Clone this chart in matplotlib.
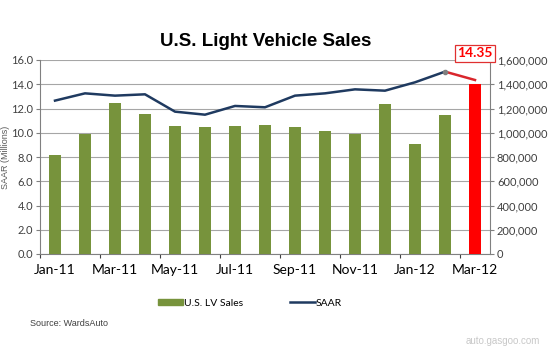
import matplotlib.pyplot as plt
from matplotlib.lines import Line2D
from matplotlib.patches import Patch
from matplotlib.ticker import FuncFormatter, FixedLocator
import numpy as np

months = ['Jan-11', 'Feb-11', 'Mar-11', 'Apr-11', 'May-11', 'Jun-11', 'Jul-11', 'Aug-11',
          'Sep-11', 'Oct-11', 'Nov-11', 'Dec-11', 'Jan-12', 'Feb-12', 'Mar-12']
lv_sales = [817000, 987000, 1245000, 1155000, 1056000, 1047000, 1056000, 1064000,
            1050000, 1017000, 992000, 1240000, 907000, 1146000, 1405000]
saar = [12.65, 13.25, 13.06, 13.17, 11.74, 11.49, 12.21, 12.10,
        13.06, 13.25, 13.58, 13.47, 14.16, 15.04, 14.35]
last_label = '14.35'

green = '#77933C'
navy = '#1F3A60'
red = '#FF0000'
tick_col = '#404040'

plt.rcParams['font.family'] = ['Liberation Sans', 'DejaVu Sans']

fig = plt.figure(figsize=(5.5, 3.49), dpi=100)
ax2 = fig.add_axes([40 / 550, 1 - 254 / 349, 450 / 550, 194 / 349])
ax = ax2.twinx()
ax.set_zorder(2)
ax.patch.set_visible(False)
ax.yaxis.tick_left()
ax.yaxis.set_label_position('left')
ax2.yaxis.tick_right()
ax2.yaxis.set_label_position('right')

x = np.arange(len(months))

# bars (right axis)
colors = [green] * (len(months) - 1) + [red]
ax2.bar(x, lv_sales, width=0.4, color=colors, zorder=3)
ax2.set_ylim(0, 1600000)
ax2.set_yticks(np.arange(0, 1600001, 200000))
ax2.yaxis.set_major_formatter(FuncFormatter(lambda v, p: '{:,.0f}'.format(v)))
ax2.grid(axis='y', color='#A6A6A6', lw=0.8, zorder=0)
ax2.set_axisbelow(True)

# line (left axis)
ax.plot(x[:-1], saar[:-1], color=navy, lw=1.8, zorder=4)
ax.plot(x[-2:], saar[-2:], color='#D9262C', lw=1.8, zorder=4)
ax.plot(x[-2], saar[-2], 'o', color='#7F7F7F', ms=3, zorder=5)
ax.set_ylim(0, 16)
ax.set_yticks(np.arange(0, 16.1, 2))
ax.yaxis.set_major_formatter(FuncFormatter(lambda v, p: '{:.1f}'.format(v)))
ax.set_ylabel('SAAR (Millions)', fontsize=6.5, color='#595959')
ax.yaxis.set_label_coords(-0.066, 0.5)

ax2.set_xlim(-0.5, len(months) - 0.5)
ax2.xaxis.set_major_locator(FixedLocator(np.arange(-0.5, len(months), 2)))
ax2.xaxis.set_minor_locator(FixedLocator(x[::2]))
ax2.set_xticklabels([])
ax2.set_xticklabels(months[::2], minor=True)
ax2.tick_params(axis='x', which='major', length=3, color='#808080')
ax2.tick_params(axis='x', which='minor', length=0, pad=7)

for a in (ax, ax2):
    for s in a.spines.values():
        s.set_visible(False)
    a.tick_params(labelsize=8, labelcolor=tick_col, colors=tick_col)
    for lab in a.get_yticklabels() + a.get_xticklabels(minor=True):
        lab.set_family(['Lato', 'DejaVu Sans'])
ax.tick_params(axis='y', length=3, color='#808080', pad=2)
ax2.tick_params(axis='y', length=3, color='#808080', pad=2)
ax2.spines['bottom'].set_visible(True)
ax2.spines['bottom'].set_color('#808080')
ax.spines['left'].set_visible(True)
ax.spines['left'].set_color('#808080')
ax2.spines['right'].set_visible(True)
ax2.spines['right'].set_color('#808080')

ax.text(x[-1], 16.55, last_label, color=red, fontsize=10, fontweight='bold',
        ha='center', va='center', family=['Lato', 'DejaVu Sans'],
        bbox=dict(boxstyle='square,pad=0.2', fc='white', ec='#E03030', lw=0.9),
        zorder=6, clip_on=False)

fig.text(266 / 550, 1 - 42 / 349, 'U.S. Light Vehicle Sales', fontsize=13.5,
         fontweight='bold', ha='center', va='center')

handles = [Patch(color=green), Line2D([], [], color=navy, lw=1.8)]
leg = fig.legend(handles, ['U.S. LV Sales', 'SAAR'], loc='center',
                 bbox_to_anchor=(250 / 550, 1 - 303 / 349), ncol=2, frameon=False,
                 handlelength=2.4, handleheight=0.6, handletextpad=0.1,
                 columnspacing=4.5, prop={'family': ['Lato', 'DejaVu Sans'], 'size': 7.5})

fig.text(30 / 550, 1 - 323 / 349, 'Source: WardsAuto', fontsize=6.5, color='#404040',
         ha='left', va='center')
fig.text(540 / 550, 1 - 341 / 349, 'auto.gasgoo.com', fontsize=7, color='#C8C8C8',
         ha='right', va='center')

fig.savefig('out.png', dpi=100)
